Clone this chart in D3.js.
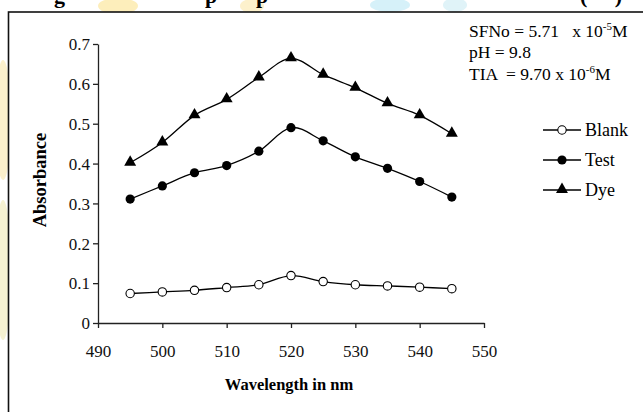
<!DOCTYPE html>
<html>
<head>
<meta charset="utf-8">
<script src="https://cdn.jsdelivr.net/npm/d3@7"></script>
<style>
  body { margin: 0; background: #fff; }
  svg { display: block; font-family: "Liberation Serif", "Times New Roman", serif; }
  text { white-space: pre; }
</style>
</head>
<body>
<div id="chart"></div>
<script>
// wavelengths (nm) and absorbance readings
var wavelengths = [495, 500, 505, 510, 515, 520, 525, 530, 535, 540, 545];
var blank = [0.074, 0.078, 0.082, 0.089, 0.096, 0.119, 0.104, 0.096, 0.093, 0.090, 0.086];
var test  = [0.311, 0.344, 0.377, 0.395, 0.431, 0.490, 0.457, 0.417, 0.388, 0.355, 0.316];
var dye   = [0.402, 0.453, 0.521, 0.561, 0.616, 0.664, 0.623, 0.590, 0.551, 0.521, 0.475];

var seriesNames = ["Blank", "Test", "Dye"];
var xTicks = [490, 500, 510, 520, 530, 540, 550];
var yTicks = [0, 0.1, 0.2, 0.3, 0.4, 0.5, 0.6, 0.7];

var width = 643, height = 412;
var margin = { top: 44, left: 98 };

var svg = d3.select("#chart").append("svg")
  .attr("width", width)
  .attr("height", height);

// faint watermark blobs behind the frame
var blobs = [
  { cx: 3, cy: 120, rx: 8, ry: 60, c: "#fbf0cc" },
  { cx: 3, cy: 270, rx: 8, ry: 70, c: "#f6f2d2" },
  { cx: 118, cy: 6, rx: 20, ry: 8, c: "#fdeebb" },
  { cx: 252, cy: 6, rx: 12, ry: 7, c: "#fdf1cc" },
  { cx: 390, cy: 5, rx: 20, ry: 7, c: "#d6f1f9" },
  { cx: 455, cy: 5, rx: 12, ry: 7, c: "#e0f3f8" }
];
svg.append("g").selectAll("ellipse")
  .data(blobs)
  .enter().append("ellipse")
  .attr("cx", function(d) { return d.cx; })
  .attr("cy", function(d) { return d.cy; })
  .attr("rx", function(d) { return d.rx; })
  .attr("ry", function(d) { return d.ry; })
  .style("fill", function(d) { return d.c; });

// caption of the page above, cut off at the top edge
var captionBits = [{ t: "g", x: 54 }, { t: "p", x: 205 }, { t: "p", x: 256 }, { t: "(     )", x: 580 }];
svg.append("g").selectAll("text")
  .data(captionBits)
  .enter().append("text")
  .attr("x", function(d) { return d.x; })
  .attr("y", 3)
  .style("font-size", "22px")
  .style("font-weight", "bold")
  .text(function(d) { return d.t; });

// chart area frame (only left/top edges visible)
svg.append("rect")
  .attr("x", 8.5).attr("y", 12)
  .attr("width", width).attr("height", height)
  .style("fill", "#fff")
  .style("stroke", "#111")
  .style("stroke-width", 1.6);

var x = d3.scaleLinear().domain([490, 550]).range([margin.left, 484]);
var y = d3.scaleLinear().domain([0, 0.7]).range([323, margin.top]);

var xAxis = svg.append("g")
  .attr("transform", "translate(0," + y(0) + ")")
  .call(d3.axisBottom(x).tickValues(xTicks).tickSize(5).tickSizeOuter(0).tickFormat(d3.format("d")));

var yAxis = svg.append("g")
  .attr("transform", "translate(" + x(490) + ",0)")
  .call(d3.axisLeft(y).tickValues(yTicks).tickSize(5).tickSizeOuter(0)
    .tickFormat(function(d) { return d === 0 ? "0" : d.toFixed(1); }));

[xAxis, yAxis].forEach(function(a) {
  a.select(".domain").style("stroke", "#222").style("stroke-width", 1.3);
  a.selectAll(".tick line").style("stroke", "#222").style("stroke-width", 1.3);
  a.selectAll(".tick text")
    .style("font-family", "'Liberation Serif', 'Times New Roman', serif")
    .style("font-size", "17px")
    .style("fill", "#111");
});
xAxis.selectAll(".tick text").attr("dy", null).attr("y", 34);
yAxis.selectAll(".tick text").attr("x", -8).attr("dy", "0.34em");

// axis titles
svg.append("text")
  .attr("x", 289).attr("y", 390)
  .attr("text-anchor", "middle")
  .style("font-size", "16.5px").style("font-weight", "bold")
  .text("Wavelength in nm");

svg.append("text")
  .attr("transform", "translate(46,180) rotate(-90)")
  .attr("text-anchor", "middle")
  .style("font-size", "18.5px").style("font-weight", "bold")
  .text("Absorbance");

// series
var series = [blank, test, dye].map(function(vals, i) {
  return {
    name: seriesNames[i],
    points: wavelengths.map(function(w, j) { return { w: w, a: vals[j] }; })
  };
});

var line = d3.line()
  .x(function(d) { return x(d.w); })
  .y(function(d) { return y(d.a); })
  .curve(d3.curveCardinal.tension(0));

svg.append("g").selectAll("path")
  .data(series)
  .enter().append("path")
  .attr("d", function(d) { return line(d.points); })
  .style("fill", "none")
  .style("stroke", "#000")
  .style("stroke-width", 1.3);

var triangle = d3.symbol().type(d3.symbolTriangle).size(62);

function drawMarker(g, name) {
  if (name === "Blank") {
    g.append("circle").attr("r", 4.2)
      .style("fill", "#fff").style("stroke", "#000").style("stroke-width", 1.1);
  } else if (name === "Test") {
    g.append("circle").attr("r", 4.6).style("fill", "#000");
  } else {
    g.append("path").attr("d", triangle).attr("transform", "translate(0,-0.5)").style("fill", "#000");
  }
}

series.forEach(function(s) {
  svg.append("g").selectAll("g")
    .data(s.points)
    .enter().append("g")
    .attr("transform", function(d) { return "translate(" + x(d.w) + "," + y(d.a) + ")"; })
    .each(function() { drawMarker(d3.select(this), s.name); });
});

// legend
var legend = svg.append("g").selectAll("g")
  .data(seriesNames)
  .enter().append("g")
  .attr("transform", function(d, i) { return "translate(543," + (130 + i * 30) + ")"; });

legend.append("line")
  .attr("x1", 0).attr("x2", 38)
  .style("stroke", "#000").style("stroke-width", 1.3);
legend.append("g")
  .attr("transform", "translate(19,0)")
  .each(function(d) { drawMarker(d3.select(this), d); });
legend.append("text")
  .attr("x", 42).attr("y", 6)
  .style("font-size", "18px")
  .text(function(d) { return d; });

// experimental conditions
var note = svg.append("g").style("font-size", "17.5px");
var l1 = note.append("text").attr("x", 469).attr("y", 37);
l1.append("tspan").text("SFNo = 5.71   x 10");
l1.append("tspan").attr("dy", -7).style("font-size", "11px").text("-5");
l1.append("tspan").attr("dy", 7).text("M");

note.append("text").attr("x", 469).attr("y", 58).text("pH = 9.8");

var l3 = note.append("text").attr("x", 469).attr("y", 80);
l3.append("tspan").text("TIA  = 9.70 x 10");
l3.append("tspan").attr("dy", -7).style("font-size", "11px").text("-6");
l3.append("tspan").attr("dy", 7).text("M");
</script>
</body>
</html>
